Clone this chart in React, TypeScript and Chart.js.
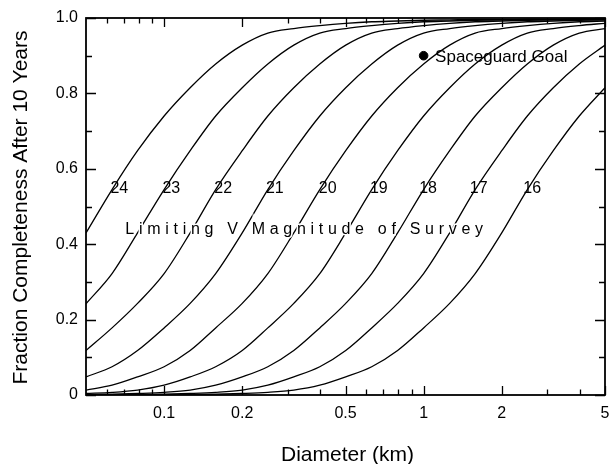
import React, { useEffect, useRef } from "react";
import { Chart, registerables } from "chart.js";

Chart.register(...registerables);

// Diameter grid (km) at which each survey curve was read
const DIAMETERS = [0.05, 0.063, 0.079, 0.1, 0.126, 0.158, 0.2, 0.251, 0.316, 0.398, 0.501, 0.631, 0.794, 1.0, 1.26, 1.58, 2.0, 2.51, 3.16, 3.98, 5.0];

// Fraction completeness after 10 years, one array per limiting V magnitude
const V16 = [0, 0, 0, 0, 0.001, 0.002, 0.004, 0.007, 0.013, 0.026, 0.048, 0.075, 0.118, 0.178, 0.243, 0.322, 0.43, 0.545, 0.648, 0.74, 0.815];
const V17 = [0, 0, 0.001, 0.002, 0.004, 0.007, 0.013, 0.026, 0.048, 0.075, 0.118, 0.178, 0.243, 0.322, 0.43, 0.545, 0.648, 0.74, 0.815, 0.878, 0.928];
const V18 = [0.001, 0.002, 0.004, 0.007, 0.013, 0.026, 0.048, 0.075, 0.118, 0.178, 0.243, 0.322, 0.43, 0.545, 0.648, 0.74, 0.815, 0.878, 0.928, 0.96, 0.972];
const V19 = [0.004, 0.007, 0.013, 0.026, 0.048, 0.075, 0.118, 0.178, 0.243, 0.322, 0.43, 0.545, 0.648, 0.74, 0.815, 0.878, 0.928, 0.96, 0.972, 0.98, 0.986];
const V20 = [0.013, 0.026, 0.048, 0.075, 0.118, 0.178, 0.243, 0.322, 0.43, 0.545, 0.648, 0.74, 0.815, 0.878, 0.928, 0.96, 0.972, 0.98, 0.986, 0.99, 0.992];
const V21 = [0.048, 0.075, 0.118, 0.178, 0.243, 0.322, 0.43, 0.545, 0.648, 0.74, 0.815, 0.878, 0.928, 0.96, 0.972, 0.98, 0.986, 0.99, 0.992, 0.994, 0.995];
const V22 = [0.118, 0.178, 0.243, 0.322, 0.43, 0.545, 0.648, 0.74, 0.815, 0.878, 0.928, 0.96, 0.972, 0.98, 0.986, 0.99, 0.992, 0.994, 0.995, 0.996, 0.996];
const V23 = [0.242, 0.322, 0.43, 0.545, 0.648, 0.74, 0.815, 0.878, 0.928, 0.96, 0.972, 0.98, 0.986, 0.99, 0.992, 0.994, 0.995, 0.996, 0.996, 0.997, 0.997];
const V24 = [0.43, 0.545, 0.648, 0.74, 0.815, 0.878, 0.928, 0.96, 0.972, 0.98, 0.986, 0.99, 0.992, 0.994, 0.995, 0.996, 0.996, 0.997, 0.997, 0.998, 0.998];

const SERIES = [V16, V17, V18, V19, V20, V21, V22, V23, V24];
const MAGNITUDES = ["16", "17", "18", "19", "20", "21", "22", "23", "24"];
const LABEL_DIAMETERS = [2.62, 1.63, 1.04, 0.672, 0.427, 0.267, 0.169, 0.1066, 0.0672];
const LABEL_FRACTION = 0.548;

const GOAL_DIAMETER = [1.0];
const GOAL_FRACTION = [0.9];
const GOAL_LABEL = "Spaceguard Goal";
const SURVEY_LABEL = "Limiting V Magnitude of Survey";
const SURVEY_LABEL_FROM = 0.0709;
const SURVEY_LABEL_TO = 1.694;
const SURVEY_LABEL_Y = 0.428;

const X_MIN = 0.05;
const X_MAX = 5;
const X_MAJOR = [0.1, 0.2, 0.5, 1, 2, 5];
const X_LABELS = ["0.1", "0.2", "0.5", "1", "2", "5"];
const X_MINOR = [0.06, 0.07, 0.08, 0.09, 0.3, 0.4, 0.6, 0.7, 0.8, 0.9, 3, 4];
const Y_MAJOR = [0, 0.2, 0.4, 0.6, 0.8, 1.0];
const Y_LABELS = ["0", "0.2", "0.4", "0.6", "0.8", "1.0"];
const Y_MINOR = [0.1, 0.3, 0.5, 0.7, 0.9];
const X_TITLE = "Diameter (km)";
const Y_TITLE = "Fraction Completeness After 10 Years";

const FONT = "'Liberation Sans', Arial, Helvetica, sans-serif";

const framePlugin = {
  id: "frameAndText",
  afterDatasetsDraw(chart: any) {
    const { ctx, chartArea: a, scales } = chart;
    const xs = scales.x;
    const ys = scales.y;
    ctx.save();
    ctx.fillStyle = "#000";
    ctx.strokeStyle = "#000";

    // magnitude labels
    ctx.font = `16px ${FONT}`;
    ctx.textAlign = "center";
    ctx.textBaseline = "middle";
    MAGNITUDES.forEach((m, i) => {
      ctx.fillText(m, xs.getPixelForValue(LABEL_DIAMETERS[i]), ys.getPixelForValue(LABEL_FRACTION));
    });

    // survey label, letter-spaced with white halo
    ctx.font = `16px ${FONT}`;
    ctx.textAlign = "left";
    ctx.textBaseline = "alphabetic";
    const x0 = xs.getPixelForValue(SURVEY_LABEL_FROM);
    const x1 = xs.getPixelForValue(SURVEY_LABEL_TO);
    const chars = SURVEY_LABEL.split("");
    const widths = chars.map((c) => ctx.measureText(c).width);
    const total = widths.reduce((s, w) => s + w, 0);
    const gap = (x1 - x0 - total) / (chars.length - 1);
    const by = ys.getPixelForValue(SURVEY_LABEL_Y);
    let cx = x0;
    ctx.lineWidth = 3;
    ctx.strokeStyle = "#fff";
    chars.forEach((c, i) => {
      if (c !== " ") ctx.strokeText(c, cx, by);
      cx += widths[i] + gap;
    });
    cx = x0;
    chars.forEach((c, i) => {
      if (c !== " ") ctx.fillText(c, cx, by);
      cx += widths[i] + gap;
    });

    // goal label
    ctx.font = `17px ${FONT}`;
    const gx = xs.getPixelForValue(GOAL_DIAMETER[0]);
    const gy = ys.getPixelForValue(GOAL_FRACTION[0]);
    ctx.fillText(GOAL_LABEL, gx + 11.5, gy + 6);

    // frame
    ctx.strokeStyle = "#000";
    ctx.lineWidth = 1.8;
    ctx.strokeRect(a.left, a.top, a.right - a.left, a.bottom - a.top);

    // ticks
    ctx.lineWidth = 1.3;
    const vTick = (v: number, len: number) => {
      const px = Math.round(xs.getPixelForValue(v)) + 0.5;
      ctx.beginPath();
      ctx.moveTo(px, a.bottom);
      ctx.lineTo(px, a.bottom - len);
      ctx.moveTo(px, a.top);
      ctx.lineTo(px, a.top + len);
      ctx.stroke();
    };
    const hTick = (v: number, len: number) => {
      const py = Math.round(ys.getPixelForValue(v)) + 0.5;
      ctx.beginPath();
      ctx.moveTo(a.left, py);
      ctx.lineTo(a.left + len, py);
      ctx.moveTo(a.right, py);
      ctx.lineTo(a.right - len, py);
      ctx.stroke();
    };
    X_MAJOR.forEach((v) => vTick(v, 9));
    X_MINOR.forEach((v) => vTick(v, 5.5));
    Y_MAJOR.forEach((v) => hTick(v, 10));
    Y_MINOR.forEach((v) => hTick(v, 6));

    // tick labels
    ctx.font = `16px ${FONT}`;
    ctx.textAlign = "center";
    ctx.textBaseline = "alphabetic";
    X_MAJOR.forEach((v, i) => {
      ctx.fillText(X_LABELS[i], xs.getPixelForValue(v), a.bottom + 22.5);
    });
    ctx.textAlign = "right";
    ctx.textBaseline = "middle";
    Y_MAJOR.forEach((v, i) => {
      ctx.fillText(Y_LABELS[i], a.left - 8, ys.getPixelForValue(v));
    });

    // titles
    ctx.font = `21px ${FONT}`;
    ctx.textAlign = "center";
    ctx.textBaseline = "alphabetic";
    ctx.fillText(X_TITLE, (a.left + a.right) / 2 + 2, 461);
    ctx.translate(27, (a.top + a.bottom) / 2 + 1);
    ctx.rotate(-Math.PI / 2);
    ctx.fillText(Y_TITLE, 0, 0);
    ctx.restore();
  },
};

export default function App() {
  const ref = useRef<HTMLCanvasElement | null>(null);
  useEffect(() => {
    document.body.style.margin = "0";
    const canvas = ref.current;
    if (!canvas) return;
    const datasets: any[] = SERIES.map((vals, i) => ({
      label: MAGNITUDES[i],
      data: DIAMETERS.map((d, j) => ({ x: d, y: vals[j] })),
      borderColor: "#000",
      borderWidth: 1.3,
      pointRadius: 0,
      fill: false,
      cubicInterpolationMode: "monotone",
    }));
    datasets.push({
      type: "scatter",
      label: "goal",
      data: GOAL_DIAMETER.map((d, i) => ({ x: d, y: GOAL_FRACTION[i] })),
      backgroundColor: "#000",
      borderColor: "#000",
      pointRadius: 4.3,
      showLine: false,
    });
    const chart = new Chart(canvas, {
      type: "line",
      data: { datasets },
      options: {
        responsive: false,
        animation: false,
        layout: { padding: { left: 86, right: 8, top: 18, bottom: 69 } },
        scales: {
          x: { type: "logarithmic", min: X_MIN, max: X_MAX, display: false },
          y: { type: "linear", min: 0, max: 1, display: false },
        },
        plugins: { legend: { display: false }, tooltip: { enabled: false } },
      },
      plugins: [framePlugin],
    });
    return () => chart.destroy();
  }, []);
  return (
    <div style={{ width: 613, height: 464, background: "#fff" }}>
      <canvas ref={ref} width={613} height={464} style={{ display: "block" }} />
    </div>
  );
}
